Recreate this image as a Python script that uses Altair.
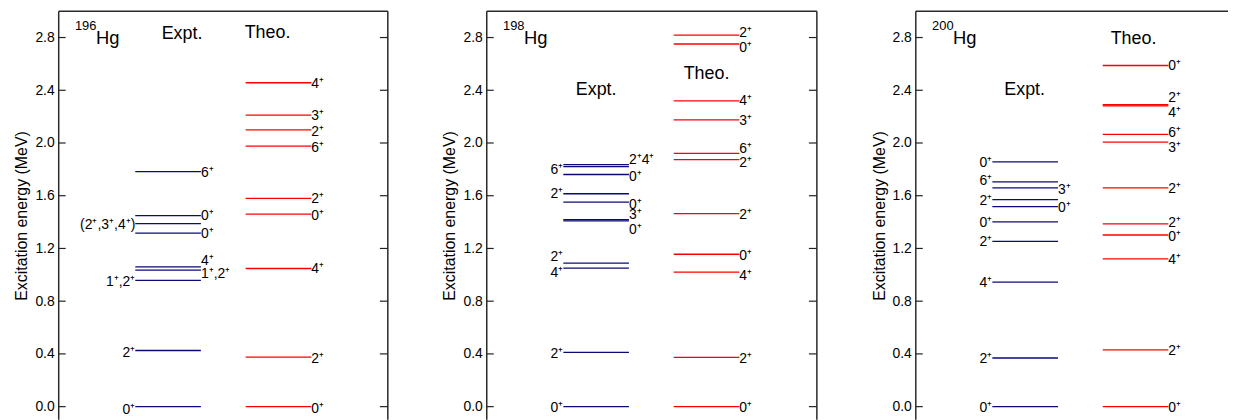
import altair as alt
import pandas as pd

# ---------------- data (MeV) ----------------
# 196Hg
hg196_expt_E = [0.000, 0.426, 0.958, 1.035, 1.061, 1.317, 1.389, 1.449, 1.783]
hg196_expt_J = ["0⁺", "2⁺", "1⁺,2⁺", "1⁺,2⁺", "4⁺", "0⁺", "(2⁺,3⁺,4⁺)", "0⁺", "6⁺"]
hg196_expt_side = ["L", "L", "L", "R", "R", "R", "L", "R", "R"]
hg196_theo_E = [0.000, 0.376, 1.048, 1.460, 1.580, 1.976, 2.099, 2.212, 2.457]
hg196_theo_J = ["0⁺", "2⁺", "4⁺", "0⁺", "2⁺", "6⁺", "2⁺", "3⁺", "4⁺"]

# 198Hg
hg198_expt_E = [0.000, 0.411, 1.050, 1.088, 1.409, 1.419, 1.552, 1.615, 1.761, 1.821, 1.836]
hg198_expt_J = ["0⁺", "2⁺", "4⁺", "2⁺", "0⁺", "3⁺", "0⁺", "2⁺", "0⁺", "6⁺", "2⁺4⁺"]
hg198_expt_side = ["L", "L", "L", "L", "R", "R", "R", "L", "R", "L", "R"]
hg198_theo_E = [0.000, 0.373, 1.020, 1.156, 1.464, 1.874, 1.921, 2.175, 2.320, 2.751, 2.819]
hg198_theo_J = ["0⁺", "2⁺", "4⁺", "0⁺", "2⁺", "2⁺", "6⁺", "3⁺", "4⁺", "0⁺", "2⁺"]

# 200Hg
hg200_expt_E = [0.000, 0.369, 0.945, 1.254, 1.402, 1.517, 1.570, 1.660, 1.705, 1.856]
hg200_expt_J = ["0⁺", "2⁺", "4⁺", "2⁺", "0⁺", "0⁺", "2⁺", "3⁺", "6⁺", "0⁺"]
hg200_expt_side = ["L", "L", "L", "L", "L", "R", "L", "R", "L", "L"]
hg200_theo_E = [0.000, 0.431, 1.121, 1.302, 1.387, 1.660, 2.006, 2.066, 2.282, 2.290, 2.588]
hg200_theo_J = ["0⁺", "2⁺", "4⁺", "0⁺", "2⁺", "2⁺", "3⁺", "6⁺", "4⁺", "2⁺", "0⁺"]

tick_values = [0.0, 0.4, 0.8, 1.2, 1.6, 2.0, 2.4, 2.8]

# ---------------- layout / style ----------------
PLOT_W, PLOT_H = 331, 411
MID_W = 332
LAST_W = 314                      # last panel is cut by the page edge
Y_MIN, Y_MAX = -0.1, 3.0
PX_PER_MEV = PLOT_H / (Y_MAX - Y_MIN)
EXPT_X = (77, 143)
THEO_X = (188, 254)
FONT = "Liberation Sans"
BLUE = "#0a0a78"
RED = "#ff0000"
FRAME = "#2a2a2a"

# label nudges in pixels (positive = downward), to keep crowded labels apart
hg196_expt_nudge = [2, 2, 1, 3, -7, 0.5, 0.5, -0.5, 0.5]
hg196_theo_nudge = [1, 1, 0, 0.5, 0, 1, 1, 0, 0]
hg198_expt_nudge = [0.5, 1, 4, -7, 8, -6, 1.5, -1, 2, 2, -5.5]
hg198_theo_nudge = [0.3, 0.7, 3, 0.3, 0, 2, -5.8, 0, -0.5, 3.3, -2.7]
hg200_expt_nudge = [0, 0, 0, 0, 0, 0.3, 0.6, 1, -1.7, 0]
hg200_theo_nudge = [0, 0, 0, 1.3, -1.3, 0, 4.7, -2.7, 6.7, -7.7, 0]

# annotation placements (x in panel units, y in MeV)
titles_pos = {
    "196": {"expt": (124, 2.789), "theo": (210, 2.794)},
    "198": {"expt": (110, 2.367), "theo": (221, 2.488)},
    "200": {"expt": (109.5, 2.363), "theo": (219, 2.751)},
}

yscale = alt.Scale(domain=[Y_MIN, Y_MAX], nice=False, zero=False)
yaxis = alt.Axis(values=tick_values, format=".1f", ticks=False, domain=False, grid=False,
                 labelFont=FONT, labelFontSize=14, labelColor="#000", labelPadding=4.5,
                 title="Excitation energy (MeV)", titleFont=FONT, titleFontSize=16,
                 titleFontWeight="normal", titleColor="#000", titlePadding=5)


def Y():
    return alt.Y("E:Q", scale=yscale, axis=yaxis)


def panel(mass, eE, eJ, eS, eN, tE, tJ, tN, width=PLOT_W, right_frame=True):
    xscale = alt.Scale(domain=[0, width], nice=False, zero=False)

    def X(f="x"):
        return alt.X(f"{f}:Q", scale=xscale, axis=None)

    lev = pd.DataFrame(
        [{"x": EXPT_X[0], "x2": EXPT_X[1], "E": e, "col": "Expt"} for e in eE]
        + [{"x": THEO_X[0], "x2": THEO_X[1], "E": e, "col": "Theo"} for e in tE]
    )
    lab = []
    for e, j, s, n in zip(eE, eJ, eS, eN):
        lab.append({"x": EXPT_X[1] if s == "R" else EXPT_X[0],
                    "E": e - n / PX_PER_MEV, "t": j, "side": s})
    for e, j, n in zip(tE, tJ, tN):
        lab.append({"x": THEO_X[1], "E": e - n / PX_PER_MEV, "t": j, "side": "R"})
    lab = pd.DataFrame(lab)

    layers = []
    # frame (left, top, right) -- the bottom lies below the page edge
    vert = [{"x": 0, "E": Y_MIN, "E2": Y_MAX}]
    if right_frame:
        vert.append({"x": width, "E": Y_MIN, "E2": Y_MAX})
    layers.append(alt.Chart(pd.DataFrame(vert)).mark_rule(color=FRAME, strokeWidth=1.5)
                  .encode(x=X(), y=Y(), y2="E2:Q"))
    layers.append(alt.Chart(pd.DataFrame([{"x": 0, "x2": width, "E": Y_MAX}]))
                  .mark_rule(color=FRAME, strokeWidth=1.5)
                  .encode(x=X(), x2="x2:Q", y=Y()))

    layers.append(
        alt.Chart(lev).mark_rule(strokeWidth=1.3).encode(
            x=X(), x2="x2:Q", y=Y(),
            color=alt.Color("col:N", scale=alt.Scale(domain=["Expt", "Theo"], range=[BLUE, RED]),
                            legend=None))
    )
    layers.append(
        alt.Chart(lab[lab.side == "R"]).mark_text(align="left", baseline="middle", dy=1,
                                                  font=FONT, fontSize=14, color="#000")
        .encode(x=X(), y=Y(), text="t:N")
    )
    layers.append(
        alt.Chart(lab[lab.side == "L"]).mark_text(align="right", baseline="middle", dy=1,
                                                  font=FONT, fontSize=14, color="#000")
        .encode(x=X(), y=Y(), text="t:N")
    )
    ticks = pd.DataFrame({"E": tick_values, "x": 0, "x2": 7,
                          "xr": width - 8, "xr2": width})
    layers.append(alt.Chart(ticks).mark_rule(color="#222", strokeWidth=1.2)
                  .encode(x=X(), x2="x2:Q", y=Y()))
    if right_frame:
        layers.append(alt.Chart(ticks).mark_rule(color="#222", strokeWidth=1.2)
                      .encode(x=X("xr"), x2="xr2:Q", y=Y()))
    tp = titles_pos[mass]
    heads = pd.DataFrame([
        {"x": tp["expt"][0], "E": tp["expt"][1], "t": "Expt."},
        {"x": tp["theo"][0], "E": tp["theo"][1], "t": "Theo."},
    ])
    layers.append(alt.Chart(heads).mark_text(align="center", baseline="alphabetic", font=FONT,
                                             fontSize=18, color="#000")
                  .encode(x=X(), y=Y(), text="t:N"))
    sup = pd.DataFrame([{"x": 38, "E": 2.854, "t": mass}])
    layers.append(alt.Chart(sup).mark_text(align="right", baseline="alphabetic", font=FONT,
                                           fontSize=13, color="#000")
                  .encode(x=X(), y=Y(), text="t:N"))
    hg = pd.DataFrame([{"x": 37.5, "E": 2.752, "t": "Hg"}])
    layers.append(alt.Chart(hg).mark_text(align="left", baseline="alphabetic", font=FONT,
                                          fontSize=18.5, color="#000")
                  .encode(x=X(), y=Y(), text="t:N"))
    return alt.layer(*layers).properties(width=width, height=PLOT_H)


p1 = panel("196", hg196_expt_E, hg196_expt_J, hg196_expt_side, hg196_expt_nudge,
           hg196_theo_E, hg196_theo_J, hg196_theo_nudge)
p2 = panel("198", hg198_expt_E, hg198_expt_J, hg198_expt_side, hg198_expt_nudge,
           hg198_theo_E, hg198_theo_J, hg198_theo_nudge, width=MID_W)
p3 = panel("200", hg200_expt_E, hg200_expt_J, hg200_expt_side, hg200_expt_nudge,
           hg200_theo_E, hg200_theo_J, hg200_theo_nudge, width=LAST_W, right_frame=False)

chart = (alt.hconcat(p1, p2, p3, spacing=53.5)
         .properties(padding={"left": 6, "top": 1, "right": 0, "bottom": 0}, background="white")
         .configure_view(stroke=None))

chart.save("out.html", embed_options={"renderer": "svg", "actions": False})
